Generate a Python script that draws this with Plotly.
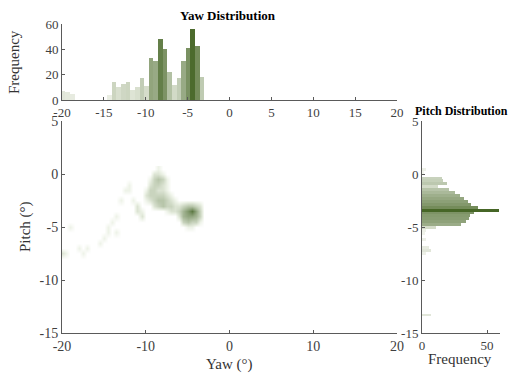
import plotly.graph_objects as go
import numpy as np

# ---------------- data ----------------
# Yaw histogram (bin centers in degrees, counts)
yaw_bin_start = -20.147
yaw_bin_width = 0.553
yaw_counts = [7, 6, 5, 0, 0, 0, 0, 0, 0, 0,
              4, 14, 10, 13, 14, 8, 10, 17, 11, 33,
              31, 48, 40, 22, 12, 17, 31, 41, 56, 43, 18]
yaw_centers = [yaw_bin_start + yaw_bin_width * (i + 0.5) for i in range(len(yaw_counts))]

# Pitch histogram (bin centers in degrees, counts)
pitch_bin_width = 0.275
pitch_centers = [0.45, 0.175, -0.1, -0.375, -0.65, -0.925, -1.2, -1.475, -1.75, -2.025,
                 -2.3, -2.575, -2.85, -3.125, -3.4, -3.675, -3.95, -4.225, -4.5, -4.775,
                 -5.05, -5.325, -5.6, -5.875, -6.15, -6.425, -6.7, -6.975, -7.25, -7.525,
                 -13.3]
pitch_counts = [3, 1, 0, 15, 16, 19, 12, 21, 25, 29,
                32, 35, 38, 43, 59, 40, 37, 36, 34, 30,
                11, 3, 2, 0, 3, 0, 0, 5, 7, 3,
                7]

# 2D density grid (yaw columns -20..-3 step 0.5, pitch rows 0.5..-8 step -0.5)
density_yaw = list(np.arange(-20, -2.99, 0.5))
density_pitch = list(np.arange(0.5, -8.01, -0.5))
density = [
    [0,0,0,0,0,0,0,0,0,0,0,0,0,0,0,0,0,0,0,0,0,0,0,1,0,0,0,0,0,0,0,0,0,0,0],
    [0,0,0,0,0,0,0,0,0,0,0,0,0,0,0,0,0,0,0,0,0,0,2,2,1,0,0,0,0,0,0,0,0,0,0],
    [0,0,0,0,0,0,0,0,0,0,0,0,0,0,0,0,0,0,0,0,0,1,3,4,3,1,0,0,0,0,0,0,0,0,0],
    [0,0,0,0,0,0,0,0,0,0,0,0,0,0,0,0,1,0,0,0,0,2,3,3,2,1,0,0,0,0,0,0,0,0,0],
    [0,0,0,0,0,0,0,0,0,0,0,0,0,0,0,1,1,0,0,0,1,3,3,2,2,1,0,0,0,0,0,0,0,0,0],
    [0,0,0,0,0,0,0,0,0,0,0,0,0,0,0,0,0,0,0,0,2,3,3,3,3,2,1,0,0,0,0,0,0,0,0],
    [0,0,0,0,0,0,0,0,0,0,0,0,0,0,1,0,0,1,0,0,1,2,3,4,4,3,2,1,0,0,0,0,0,0,0],
    [0,0,0,0,0,0,0,0,0,0,0,0,0,0,0,0,0,0,2,0,0,0,2,3,4,3,3,2,2,3,4,4,3,2,0],
    [0,0,0,0,0,0,0,0,0,0,0,0,0,0,0,0,0,0,2,1,0,0,0,0,0,1,2,2,3,5,7,9,6,3,0],
    [0,0,0,0,0,0,0,0,0,0,0,0,0,1,0,0,0,0,0,2,0,0,0,0,0,0,0,0,2,5,6,6,5,3,0],
    [0,0,0,0,0,0,0,0,0,0,0,0,1,0,0,0,0,0,0,0,0,0,0,0,0,0,0,0,0,3,4,3,3,1,0],
    [0,0,1,0,0,0,0,0,0,0,0,1,0,0,0,0,0,0,0,0,0,0,0,0,0,0,0,0,0,0,1,1,0,0,0],
    [0,0,0,0,0,0,0,0,0,0,0,1,0,1,0,0,0,0,0,0,0,0,0,0,0,0,0,0,0,0,0,0,0,0,0],
    [0,0,0,0,0,0,0,0,0,0,1,0,0,0,0,0,0,0,0,0,0,0,0,0,0,0,0,0,0,0,0,0,0,0,0],
    [0,0,0,0,0,0,0,0,0,1,0,0,0,0,0,0,0,0,0,0,0,0,0,0,0,0,0,0,0,0,0,0,0,0,0],
    [0,0,0,0,1,0,1,0,0,0,0,0,0,0,0,0,0,0,0,0,0,0,0,0,0,0,0,0,0,0,0,0,0,0,0],
    [2,1,0,0,0,1,0,0,0,0,0,0,0,0,0,0,0,0,0,0,0,0,0,0,0,0,0,0,0,0,0,0,0,0,0],
    [0,0,0,0,0,0,0,0,0,0,0,0,0,0,0,0,0,0,0,0,0,0,0,0,0,0,0,0,0,0,0,0,0,0,0],
]

yaw_ticks_top = [-20, -15, -10, -5, 0, 5, 10, 15, 20]
yaw_ticks_main = [-20, -10, 0, 10, 20]
pitch_ticks = [5, 0, -5, -10, -15]
freq_ticks_top = [0, 20, 40, 60]
freq_ticks_right = [0, 50]

def labels(vals):
    return [str(v) for v in vals]

# ---------------- styling ----------------
W, H = 512, 373
FONT = "Liberation Serif"
AX = "#5a5a5a"
TXT = "#404040"
bar_scale = [[0, "rgb(246,248,241)"], [1, "rgb(70,102,38)"]]
heat_scale = [[0, "rgb(255,255,255)"], [0.1, "rgb(238,243,232)"], [1, "rgb(72,104,44)"]]

def px(x):
    return x / W

def py(y):
    return 1 - y / H

fig = go.Figure()

fig.add_trace(go.Heatmap(
    x=density_yaw, y=density_pitch, z=density,
    colorscale=heat_scale, zmin=0, zmax=10, zsmooth="best",
    showscale=False, xaxis="x", yaxis="y", hoverinfo="skip"))

fig.add_trace(go.Bar(
    x=yaw_centers, y=yaw_counts, width=yaw_bin_width,
    marker=dict(color=yaw_counts, colorscale=bar_scale, cmin=0, cmax=58, line=dict(width=0)),
    xaxis="x2", yaxis="y2", showlegend=False))

fig.add_trace(go.Bar(
    y=pitch_centers, x=pitch_counts, width=pitch_bin_width, orientation="h",
    marker=dict(color=pitch_counts, colorscale=bar_scale, cmin=0, cmax=58, line=dict(width=0)),
    xaxis="x3", yaxis="y3", showlegend=False))

def axis(domain, rng, ticks, anchor, size=13):
    return dict(domain=domain, range=rng, tickvals=ticks, ticktext=labels(ticks), anchor=anchor,
                showline=True, linecolor=AX, linewidth=1, ticks="inside", ticklen=3,
                tickcolor=AX, showgrid=False, zeroline=False, automargin=False,
                tickfont=dict(family=FONT, size=size, color=TXT))

main_x = (px(62), px(397))
main_y = (py(333), py(121))

fig.update_layout(
    width=W, height=H, margin=dict(l=0, r=0, t=0, b=0),
    paper_bgcolor="white", plot_bgcolor="rgba(0,0,0,0)", bargap=0,
    xaxis=axis(main_x, [-20, 20], yaw_ticks_main, "y", 14),
    yaxis=axis(main_y, [-15, 5], pitch_ticks, "x", 14),
    xaxis2=axis(main_x, [-20, 20], yaw_ticks_top, "y2", 13),
    yaxis2=axis((py(100), py(24)), [0, 60], freq_ticks_top, "x2", 13),
    xaxis3=axis((px(422), px(500)), [0, 60], freq_ticks_right, "y3", 13),
    yaxis3=axis(main_y, [-15, 5], pitch_ticks, "x3", 13),
)

def ann(text, x, y, size, bold=False, angle=0, color="black"):
    fig.add_annotation(text=f"<b>{text}</b>" if bold else text, x=px(x), y=py(y),
                       xref="paper", yref="paper", showarrow=False, textangle=angle,
                       font=dict(family=FONT, size=size, color=color),
                       xanchor="center", yanchor="middle")

ann("Yaw Distribution", 228, 15, 13, bold=True)
ann("Frequency", 14, 62, 15, angle=-90, color="#333")
ann("Yaw (°)", 229, 364, 15, color="#333")
ann("Pitch (°)", 26, 227, 15, angle=-90, color="#333")
ann("Pitch Distribution", 461, 111, 12, bold=True)
ann("Frequency", 460, 359, 15, color="#333")

fig.write_html("out.html", config={"displayModeBar": False},
               post_script="document.body.style.margin='0';")
